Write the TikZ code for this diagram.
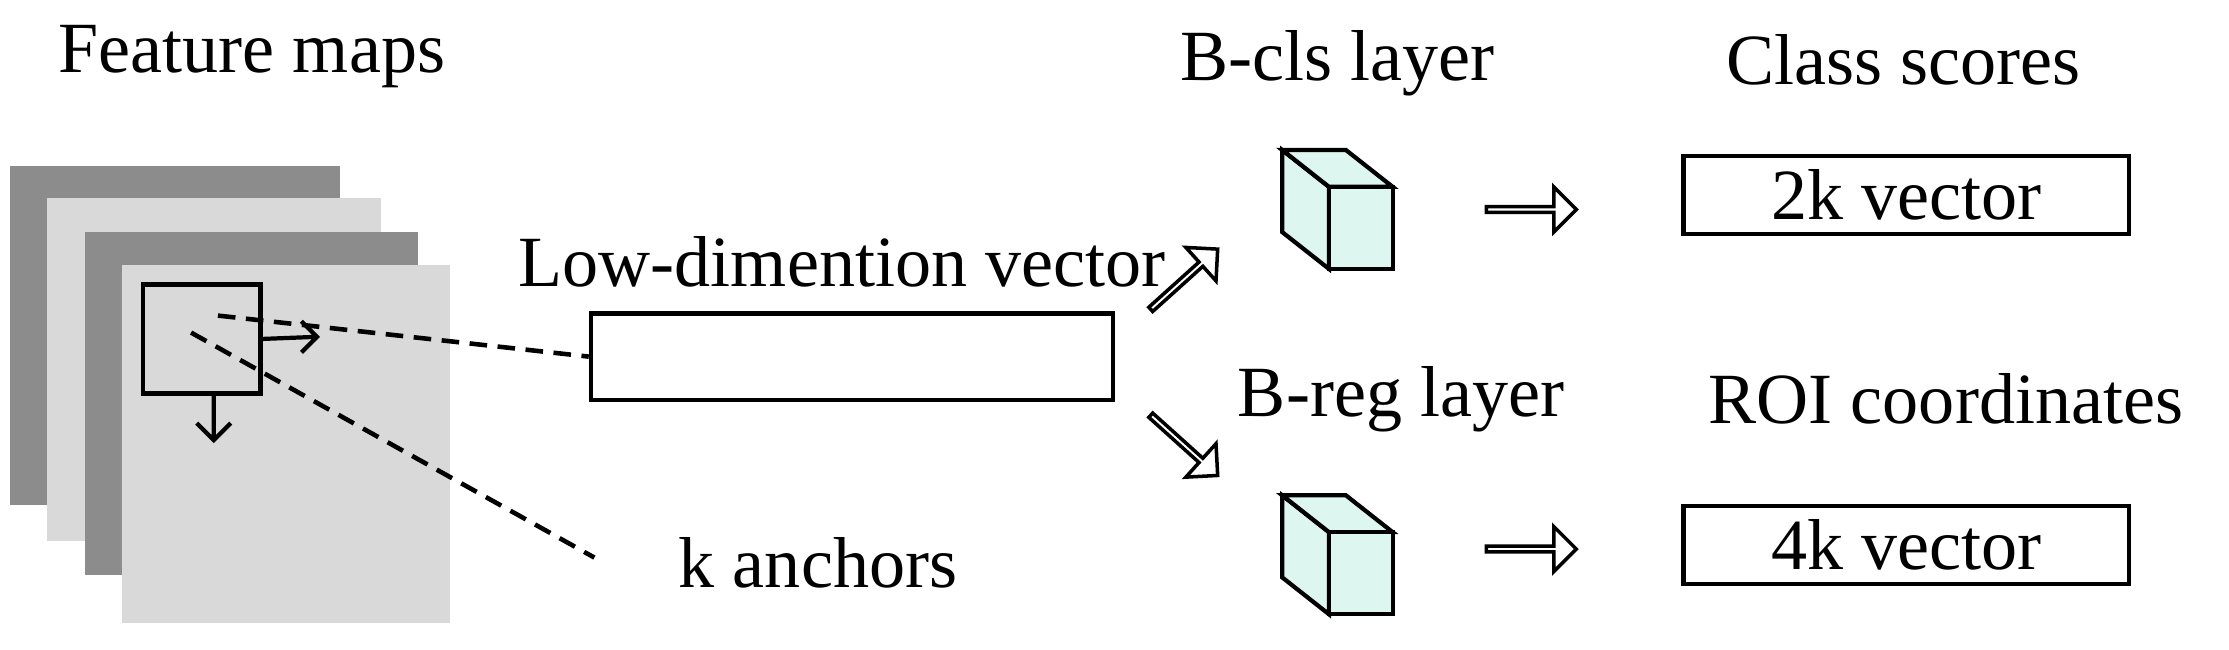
\documentclass[tikz,border=0pt]{standalone}
\usepackage{fontspec}
\setmainfont{Liberation Serif}
\usetikzlibrary{shapes.arrows}
\definecolor{dk}{HTML}{8C8C8C}
\definecolor{lt}{HTML}{D9D9D9}
\definecolor{cub}{HTML}{DDF7F0}
\begin{document}
\begin{tikzpicture}[x=0.014152cm,y=-0.014152cm,
  lab/.style={font=\fontsize{20.5}{24}\selectfont,inner sep=0},
  box/.style={draw,line width=1.2pt},
  dashline/.style={line width=1.3pt,dash pattern=on 5pt off 3pt},
  harrow/.style={single arrow,draw,line width=1pt,fill=white,minimum height=0.9cm,minimum width=0.45cm,single arrow head extend=0.12cm,inner sep=0,rotate=#1},
  cubeface/.style={draw,fill=cub,line width=1.2pt,line join=miter}]
\useasboundingbox (0,0) rectangle (1575,459);
% feature maps
\fill[dk] (7,117) rectangle (240,357);
\fill[lt] (33,140) rectangle (269,382);
\fill[dk] (60,164) rectangle (295,406);
\fill[lt] (86,187) rectangle (318,440);
\node[box,minimum width=83*0.014152cm,minimum height=77*0.014152cm,inner sep=0] (sq) at (142.5,239.5) {};
\coordinate (ar) at (224,238);
\coordinate (ab) at (151,311);
\draw[line width=1.2pt] (sq.east) -- (ar) (213,227) -- (ar) -- (213,249);
\draw[line width=1.2pt] (sq.south -| ab) -- (ab) (139,299) -- (ab) -- (163,299);
\node[box,minimum width=369*0.014152cm,minimum height=61*0.014152cm,inner sep=0] (vec) at (602,252) {};
\coordinate (d1) at (154,223);
\coordinate (d2) at (135,235);
\coordinate (d2e) at (420,394);
\draw[dashline] (d1) -- (vec.west);
\draw[dashline] (d2) -- (d2e);
\node[lab] (fm) at (178,40) {Feature maps};
\node[lab] (lv) at (595,185) {Low-dimention vector};
\node[lab] (ka) at (578,398) {k anchors};
% diagonal arrows
\node[harrow=42] (a1) at (836,198) {};
\node[harrow=-42] (a2) at (836,314) {};
% cubes
\foreach \y in {106,350}{
  \draw[cubeface] (906,\y) -- (939,\y+26) -- (939,\y+84) -- (906,\y+58) -- cycle;
  \draw[cubeface] (906,\y) -- (951,\y) -- (984,\y+26) -- (939,\y+26) -- cycle;
  \draw[cubeface] (939,\y+26) rectangle (984,\y+84);
}
\node[lab] (bc) at (945,45) {B-cls layer};
\node[lab] (br) at (990,282) {B-reg layer};
\node[harrow=0] (h1) at (1081,148) {};
\node[harrow=0] (h2) at (1081,388) {};
\node[box,minimum width=315*0.014152cm,minimum height=55*0.014152cm,inner sep=0,lab] (v2) at (1347,138) {2k vector};
\node[box,minimum width=315*0.014152cm,minimum height=55*0.014152cm,inner sep=0,lab] (v4) at (1347,385) {4k vector};
\node[lab] (cs) at (1345,42) {Class scores};
\node[lab] (roi) at (1375,282) {ROI coordinates};
\end{tikzpicture}
\end{document}
